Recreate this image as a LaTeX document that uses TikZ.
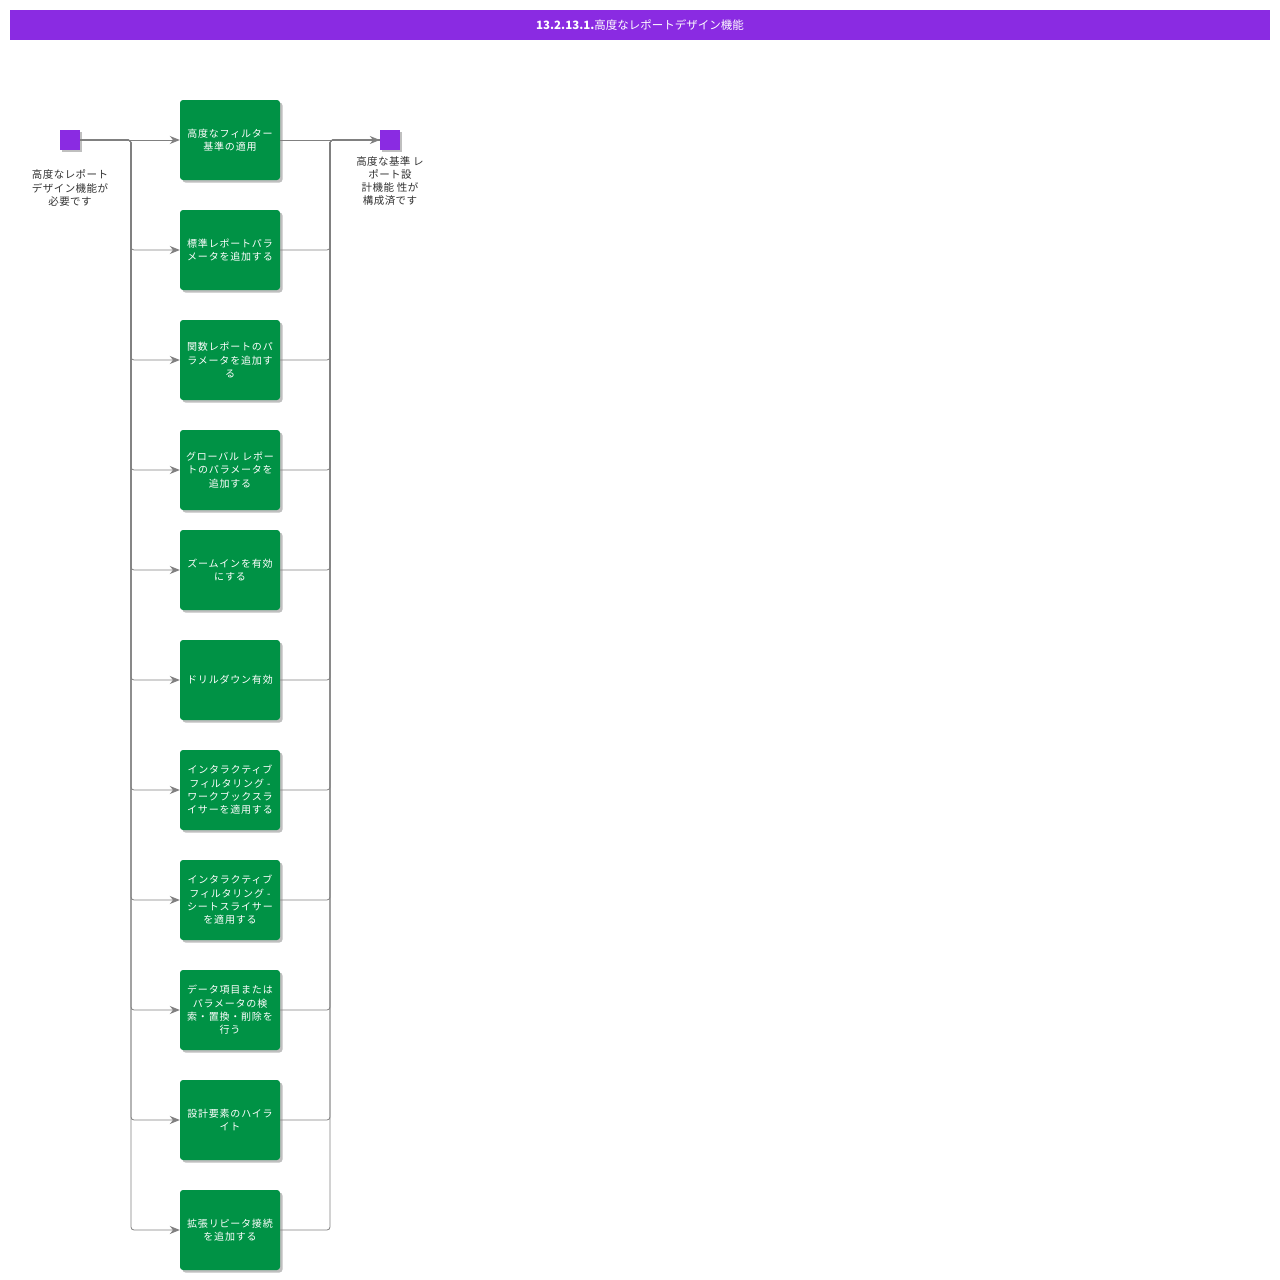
\documentclass[tikz,border=0pt]{standalone}
\usepackage{fontspec}
\setmainfont{Noto Sans CJK JP}
\usetikzlibrary{arrows.meta,shadows}
\definecolor{titlebg}{HTML}{8A2BE2}
\definecolor{boxgreen}{HTML}{009245}
\definecolor{connc}{HTML}{808080}
\definecolor{labc}{HTML}{333333}
\tikzset{
  stepbox/.style={draw=none, fill=boxgreen, rounded corners=3pt, minimum width=100pt, minimum height=80pt,
    align=center, text=white, font=\fontsize{10}{13.3}\selectfont\addfontfeature{LetterSpace=8}, inner sep=2pt,
    drop shadow={shadow xshift=2.5pt, shadow yshift=-2.5pt, fill=black, opacity=0.25}},
  term/.style={draw=none, fill=titlebg, minimum width=20pt, minimum height=20pt, inner sep=0pt,
    drop shadow={shadow xshift=2pt, shadow yshift=-2pt, fill=black, opacity=0.25}},
  lab/.style={align=center, text=labc, font=\fontsize{10.5}{13.3}\selectfont\addfontfeature{LetterSpace=4}, inner sep=0pt},
  conn/.style={draw=connc, line width=0.8pt, rounded corners=3pt},
  arr/.style={conn, -{Stealth[length=10pt,width=8pt]}}
}
\begin{document}
\begin{tikzpicture}[x=1pt,y=-1pt]
\useasboundingbox (0,0) rectangle (1280,1280);
\fill[white] (0,0) rectangle (1280,1280);
\node[fill=titlebg, minimum width=1260pt, minimum height=30pt, inner sep=0pt, anchor=north west] (title) at (10,10) {};
\node[text=white, font=\fontsize{11.5}{13}\selectfont] (ttl) at (640,25) {{\bfseries 13.2.13.1.}高度なレポートデザイン機能};
\node[term] (s) at (70,140) {};
\node[lab] (sl) at (70,188) {高度なレポート\\デザイン機能が\\必要です};
\node[term] (e) at (390,140) {};
\node[lab] (el) at (390,181) {高度な基準 レ\\ポート設\\計機能 性が\\構成済です};
\node[stepbox] (b1) at (230,140) {高度なフィルター\\基準の適用};
\node[stepbox] (b2) at (230,250) {標準レポートパラ\\メータを追加する};
\node[stepbox] (b3) at (230,360) {関数レポートのパ\\ラメータを追加す\\る};
\node[stepbox] (b4) at (230,470) {グローバル レポー\\トのパラメータを\\追加する};
\node[stepbox] (b5) at (230,570) {ズームインを有効\\にする};
\node[stepbox] (b6) at (230,680) {ドリルダウン有効};
\node[stepbox] (b7) at (230,790) {インタラクティブ\\フィルタリング -\\ワークブックスラ\\イサーを適用する};
\node[stepbox] (b8) at (230,900) {インタラクティブ\\フィルタリング -\\シートスライサー\\を適用する};
\node[stepbox] (b9) at (230,1010) {データ項目または\\パラメータの検\\索・置換・削除を\\行う};
\node[stepbox] (b10) at (230,1120) {設計要素のハイラ\\イト};
\node[stepbox] (b11) at (230,1230) {拡張リピータ接続\\を追加する};
\draw[arr] (s.east) -- (b1.west);
\foreach \i in {2,...,11} {
  \draw[arr] (s.east) -- (131,140) |- (b\i.west);
}
\draw[arr] (b1.east) -- (e.west);
\foreach \i in {2,...,11} {
  \draw[conn] (b\i.east) -| (330,140) -- (e.west);
}
\end{tikzpicture}
\end{document}
